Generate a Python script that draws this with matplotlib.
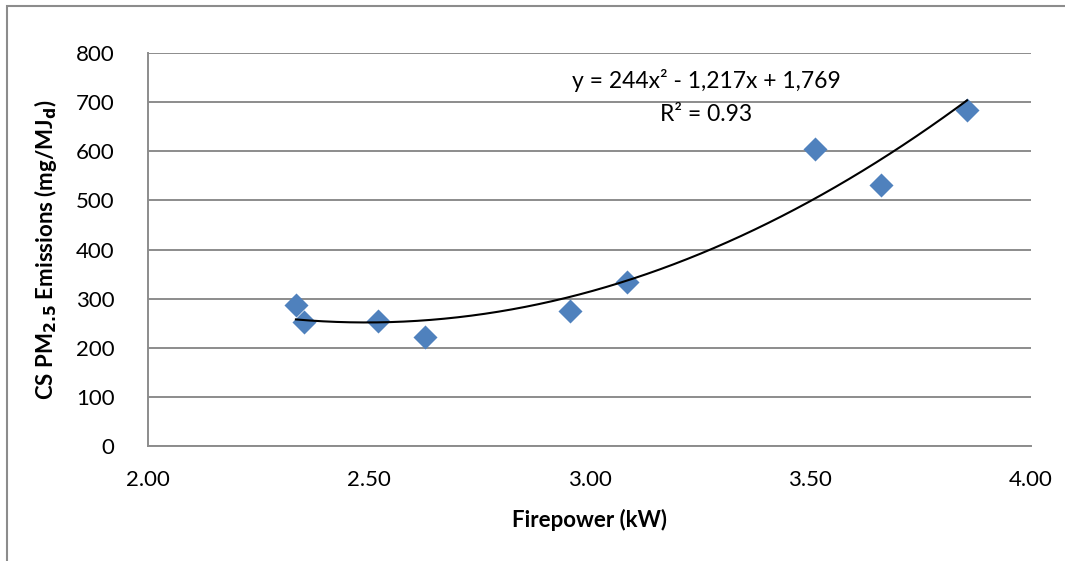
import matplotlib

matplotlib.use("Agg")
import matplotlib.pyplot as plt  # noqa: E402
import numpy as np  # noqa: E402
from matplotlib.patches import Rectangle  # noqa: E402

plt.rcParams["font.family"] = ["Lato", "DejaVu Sans"]

GRID = "#8C8C8C"
BLUE = "#4F81BD"

# firepower (kW) vs. CS PM2.5 emissions (mg/MJd)
firepower = [2.335, 2.353, 2.521, 2.627, 2.956, 3.085, 3.511, 3.660, 3.855]
emissions = [287, 252, 254, 222, 275, 334, 605, 531, 684]
fit_coef = [244, -1217, 1769]

x_ticks = [2.0, 2.5, 3.0, 3.5, 4.0]
y_ticks = [0, 100, 200, 300, 400, 500, 600, 700, 800]

fig = plt.figure(figsize=(10.65, 5.61), dpi=100)
ax = fig.add_axes([148 / 1065, 1 - 446 / 561, (1031 - 148) / 1065, (446 - 53) / 561])

ax.set_xlim(2.0, 4.0)
ax.set_ylim(0, 800)
ax.set_xticks(x_ticks)
ax.set_yticks(y_ticks)
ax.set_xticklabels([f"{t:.2f}" for t in x_ticks])
ax.tick_params(length=0, labelsize=16, colors="black")
ax.tick_params(axis="x", pad=17)
ax.tick_params(axis="y", pad=24)

for s in ["top", "right"]:
    ax.spines[s].set_visible(False)
for s in ["left", "bottom"]:
    ax.spines[s].set_color(GRID)
    ax.spines[s].set_linewidth(1.4)
ax.yaxis.grid(True, color=GRID, lw=1.4)
ax.set_axisbelow(True)

ax.scatter(firepower, emissions, marker="D", s=150, color=BLUE, zorder=3, linewidths=0)

xs = np.linspace(min(firepower), max(firepower), 200)
ax.plot(xs, np.polyval(fit_coef, xs), color="black", lw=1.5, zorder=4)

ax.text(3.265, 745, "y = 244x² - 1,217x + 1,769", fontsize=16.5, ha="center", va="center")
ax.text(3.265, 675, "R² = 0.93", fontsize=16.5, ha="center", va="center")

ax.set_xlabel("Firepower (kW)", fontsize=16, fontweight="bold", labelpad=14)
ax.set_ylabel(r"CS PM$_{\mathbf{2.5}}$ Emissions (mg/MJ$_{\mathbf{d}}$)",
              fontsize=16, fontweight="bold", labelpad=12)

fig.patches.append(Rectangle((7 / 1065, -0.1), 1.2, 1 - 6 / 561 + 0.1,
                             transform=fig.transFigure, fill=False,
                             edgecolor="#8C8C8C", lw=1.5))

fig.savefig("out.png", dpi=100, facecolor="white")
